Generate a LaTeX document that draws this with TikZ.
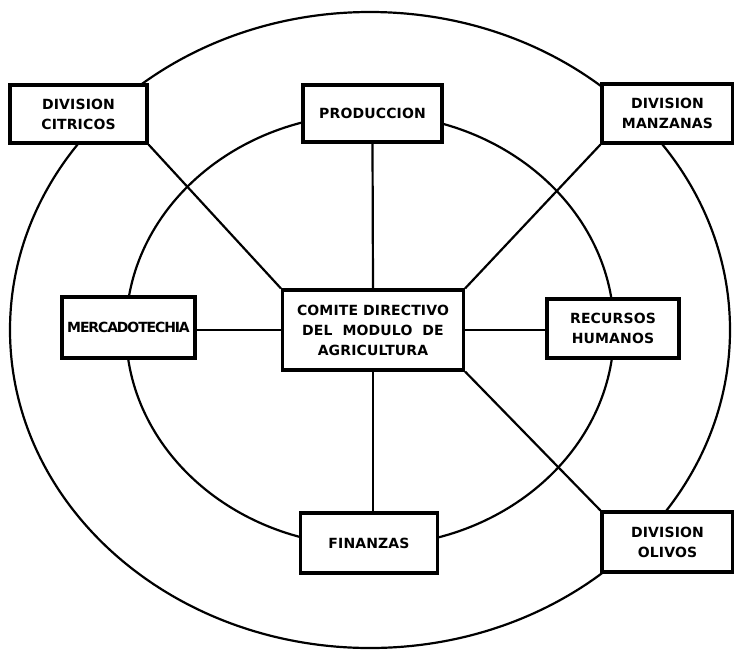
\documentclass[tikz,border=0pt]{standalone}
\usepackage{fontspec}
\newfontfamily\orgfont{DejaVu Sans}[LetterSpace=1]
\newfontfamily\orgtight{DejaVu Sans}[LetterSpace=-8]
\tikzset{
  unit/.style={draw, line width=3.2pt, fill=white, inner sep=0pt, align=center,
    minimum width=137pt, minimum height=58pt,
    font=\orgfont\bfseries\fontsize{14}{20}\selectfont},
  ring/.style={line width=2.2pt},
  spoke/.style={line width=2.2pt}
}
\begin{document}
\begin{tikzpicture}[x=1pt,y=-1pt]
      \useasboundingbox (0,0) rectangle (734,649);
      \coordinate (hub) at (370,330);
      \draw[ring] (hub) ellipse [x radius=360pt, y radius=318pt];
      \draw[ring] (hub) ellipse [x radius=244pt, y radius=216pt];
      \draw
        (78.5,114) node[unit] (citricos){DIVISION\\CITRICOS}
        (372.5,113.5) node[unit, minimum width=139pt, minimum height=57pt] (produccion){PRODUCCION}
        (667.5,113.5) node[unit, minimum width=131pt, minimum height=59pt] (manzanas){DIVISION\\MANZANAS}
        (128.5,327.5) node[unit, minimum width=133pt, minimum height=61pt,
          font=\orgtight\bfseries\fontsize{14}{20}\selectfont] (merc){MERCADOTECHIA}
        (373,330) node[unit, minimum width=181pt, minimum height=80pt] (comite){COMITE DIRECTIVO\\DEL\ \ MODULO\ \ DE\\AGRICULTURA}
        (613,328.5) node[unit, minimum width=132pt, minimum height=59pt] (recursos){RECURSOS\\HUMANOS}
        (369,543) node[unit, minimum height=60pt] (finanzas){FINANZAS}
        (667.5,542) node[unit, minimum width=131pt, minimum height=60pt] (olivos){DIVISION\\OLIVOS};
      \begin{scope}[spoke]
        \draw (citricos.south east) to (comite.north west);
        \draw (manzanas.south west) to (comite.north east);
        \draw (olivos.north west) to (comite.south east);
        \draw (produccion.south) to (comite.north);
        \draw (finanzas.north -| comite.south) to (comite.south);
        \draw (merc.east |- comite.west) to (comite.west);
        \draw (recursos.west |- comite.east) to (comite.east);
      \end{scope}
    \end{tikzpicture}
\end{document}
